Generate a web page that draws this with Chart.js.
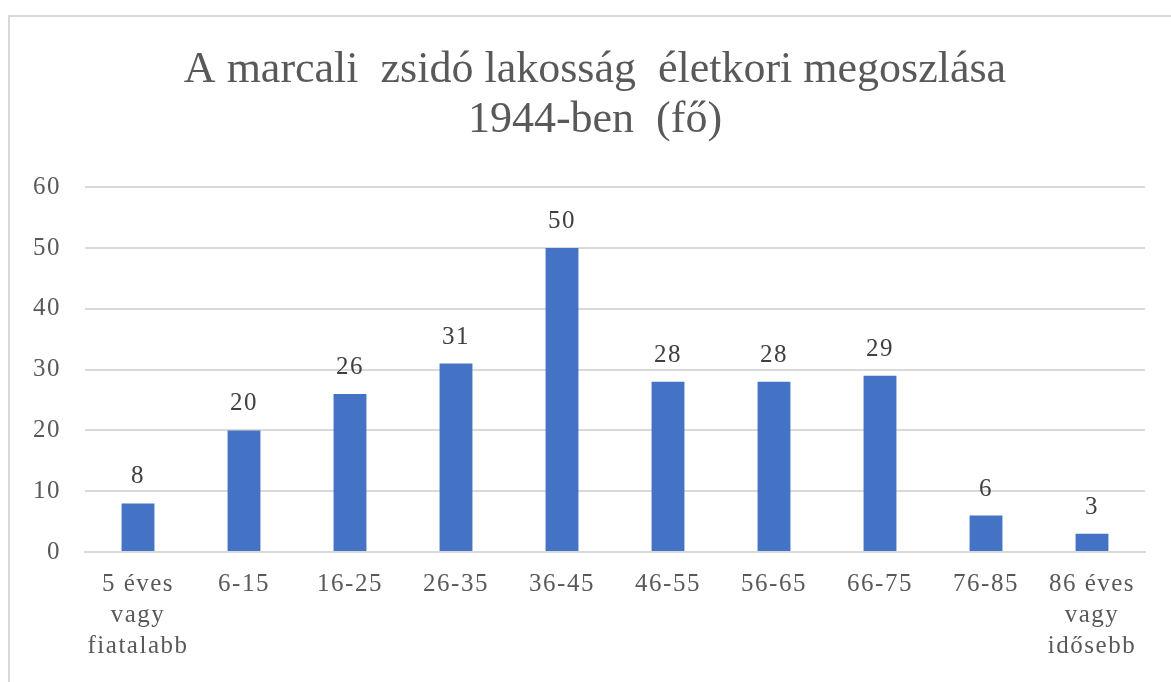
<!DOCTYPE html>
<html><head><meta charset="utf-8">
<script src="https://cdn.jsdelivr.net/npm/chart.js@4.4.1/dist/chart.umd.min.js"></script>
<style>
html,body{margin:0;padding:0;background:#fff;overflow:hidden}
#frame{position:absolute;left:8px;top:15px;width:1200px;height:700px;border:2px solid #d9d9d9;box-sizing:border-box}
#wrap{position:absolute;left:0;top:0;width:1190px;height:682px}
</style></head>
<body>
<div id="frame"></div>
<div id="wrap"><canvas id="c" width="1190" height="682"></canvas></div>
<script>
const categories = [
  ["5 éves","vagy","fiatalabb"], "6-15", "16-25", "26-35", "36-45",
  "46-55", "56-65", "66-75", "76-85", ["86 éves","vagy","idősebb"]
];
const values = [8, 20, 26, 31, 50, 28, 28, 29, 6, 3];
const titleLines = ["A marcali  zsidó lakosság  életkori megoszlása", "1944-ben  (fő)"];
const yTicks = [0, 10, 20, 30, 40, 50, 60];

const spacingPlugin = {
  id: 'spacing',
  beforeDraw(chart) { chart.ctx.letterSpacing = '0px'; },
  afterDatasetsDraw(chart) {
    const ctx = chart.ctx;
    ctx.letterSpacing = '1.5px';
    const meta = chart.getDatasetMeta(0);
    ctx.save();
    ctx.font = '25px "Liberation Serif", serif';
    ctx.fillStyle = '#404040';
    ctx.textAlign = 'center';
    ctx.textBaseline = 'alphabetic';
    meta.data.forEach((bar, i) => {
      ctx.fillText(String(values[i]), bar.x, bar.y - 20);
    });
    ctx.restore();
  },
  afterDraw(chart) { chart.ctx.letterSpacing = '0px'; }
};

new Chart(document.getElementById('c'), {
  type: 'bar',
  data: {
    labels: categories,
    datasets: [{ data: values, backgroundColor: '#4472C4', barPercentage: 0.31, categoryPercentage: 1 }]
  },
  options: {
    responsive: false,
    animation: false,
    layout: { padding: 0 },
    plugins: {
      legend: { display: false },
      tooltip: { enabled: false },
      title: {
        display: true,
        text: titleLines,
        color: '#595959',
        font: { family: '"Liberation Serif", serif', size: 44, weight: 'normal', lineHeight: 1.14 },
        padding: { top: 45, bottom: 42 }
      }
    },
    scales: {
      x: {
        grid: { display: false, drawTicks: false },
        border: { display: true, color: '#d9d9d9', width: 2 },
        ticks: {
          z: 1,
          color: '#595959',
          font: { family: '"Liberation Serif", serif', size: 25, lineHeight: 1.24 },
          padding: 17, maxRotation: 0, autoSkip: false
        },
        afterFit(s) { s.height = 130; }
      },
      y: {
        min: 0, max: 60,
        afterBuildTicks(s) { s.ticks = yTicks.map(v => ({ value: v })); },
        grid: { color: '#d9d9d9', lineWidth: 2, drawTicks: false },
        border: { display: false },
        ticks: {
          z: 1,
          color: '#595959',
          font: { family: '"Liberation Serif", serif', size: 25 },
          padding: 24
        },
        afterFit(s) { s.width = 85; }
      },
      yr: {
        position: 'right',
        min: 0, max: 60,
        grid: { display: false, drawTicks: false },
        border: { display: false },
        ticks: { display: false },
        afterFit(s) { s.width = 45; }
      }
    }
  },
  plugins: [spacingPlugin]
});
</script>
</body></html>
